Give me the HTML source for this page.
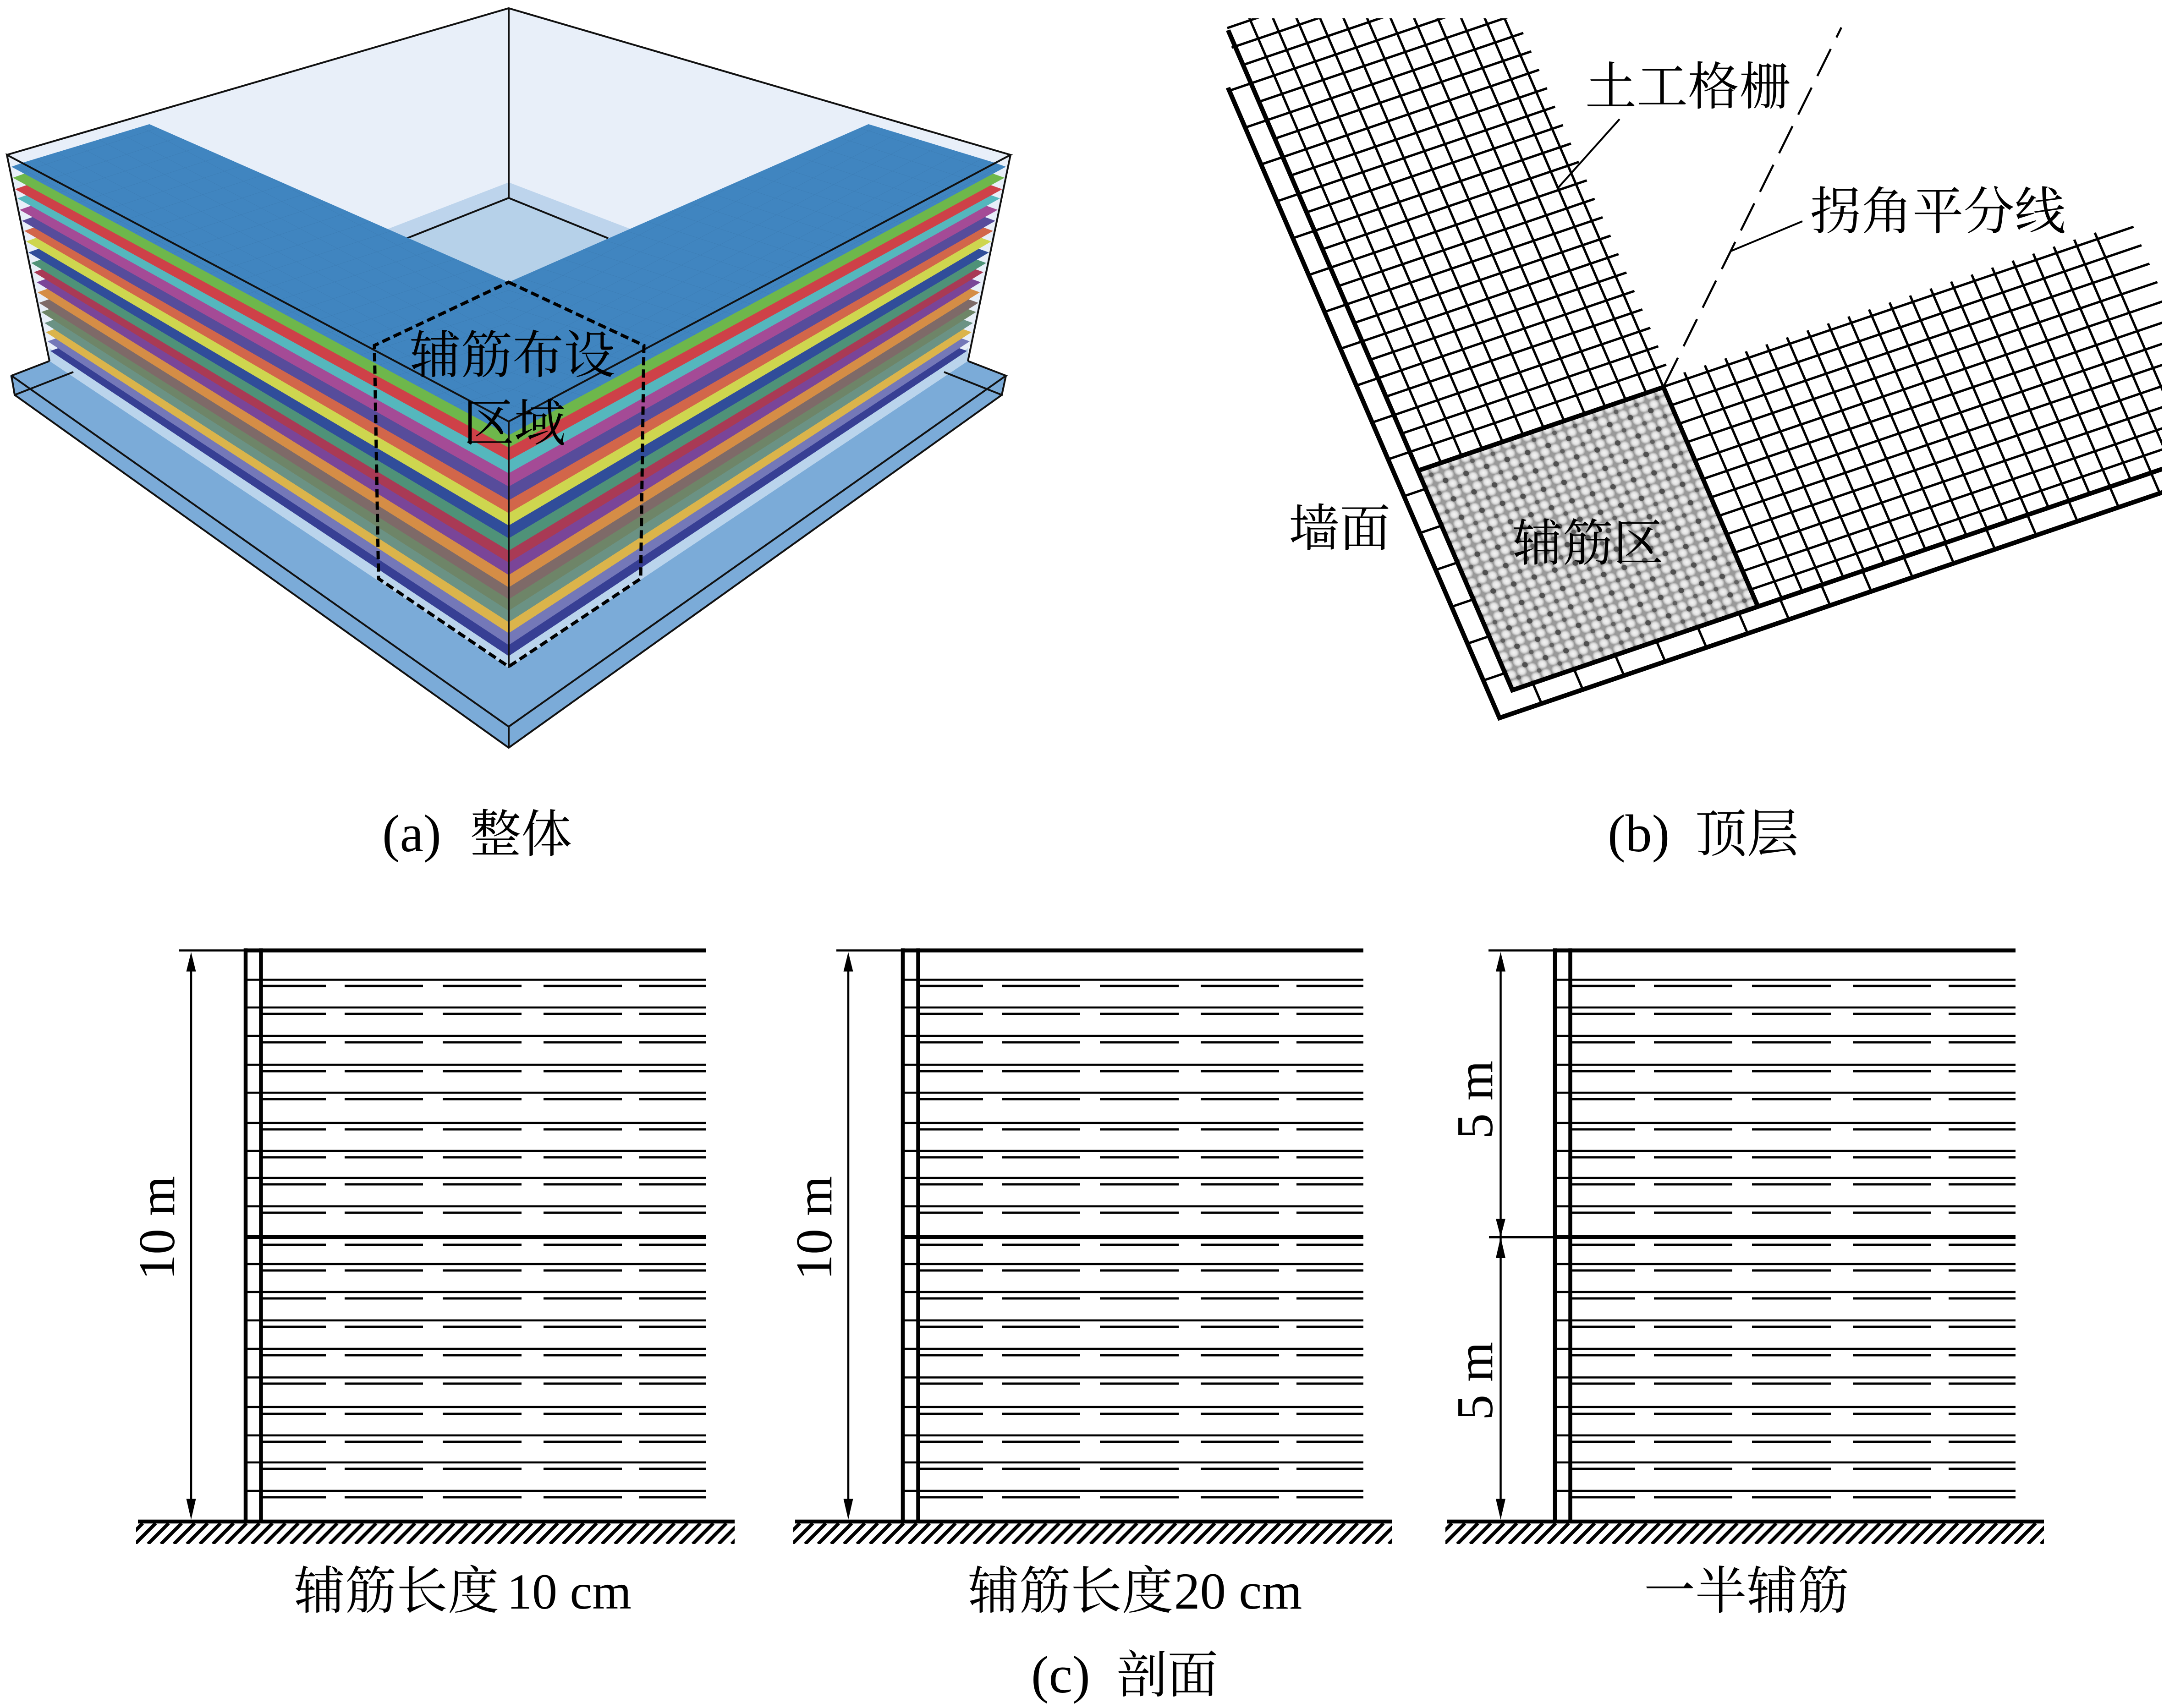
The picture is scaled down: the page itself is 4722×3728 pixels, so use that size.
<!DOCTYPE html>
<html lang="zh">
<head>
<meta charset="utf-8">
<title>Diagram</title>
<style>
html,body{margin:0;padding:0;background:#fff}
svg{display:block}
text{font-family:"Liberation Serif","Noto Serif CJK SC",serif;fill:#000;font-size:112px}
</style>
</head>
<body>
<svg xmlns="http://www.w3.org/2000/svg" width="4722" height="3728" viewBox="0 0 4722 3728">
<defs>
  <pattern id="gridL" patternUnits="userSpaceOnUse" width="47" height="47" patternTransform="matrix(.884 .468 .95 -.31 0 0)">
    <path d="M0 0H47M0 0V47" stroke="#16365e" stroke-opacity=".14" stroke-width="1.6" fill="none"/>
  </pattern>
  <clipPath id="armsClip"><polygon points="25,364 50,355 326,271 1110,616 1895,271 2170,355 2195,364 1110,950"/></clipPath>
  <clipPath id="bClip"><rect x="2600" y="40" width="2118" height="1600"/></clipPath>
  <radialGradient id="blob">
    <stop offset="0" stop-color="#f4f4f4"/>
    <stop offset=".6" stop-color="#e2e2e2"/>
    <stop offset="1" stop-color="#a8a8a8"/>
  </radialGradient>
  <pattern id="blobs" patternUnits="userSpaceOnUse" x="50" y="48.5" width="23.65" height="21.9">
    <rect width="23.65" height="21.9" fill="#999"/>
    <circle cx="11.82" cy="10.95" r="11" fill="url(#blob)"/>
  </pattern>
  <pattern id="dots" patternUnits="userSpaceOnUse" x="50" y="48.5" width="47.3" height="43.8">
    <circle cx="0" cy="0" r="6" fill="#505050"/>
    <circle cx="47.3" cy="0" r="6" fill="#505050"/>
    <circle cx="0" cy="43.8" r="6" fill="#505050"/>
    <circle cx="47.3" cy="43.8" r="6" fill="#505050"/>
    <circle cx="23.65" cy="21.9" r="5" fill="#606060"/>
  </pattern>
  <pattern id="hatch" patternUnits="userSpaceOnUse" x="0" y="3325" width="28.3" height="45">
    <path d="M-45 45L0 0M-16.7 45L28.3 0M11.6 45L56.6 0M-73.3 45L-28.3 0" stroke="#000" stroke-width="7.5" fill="none"/>
  </pattern>
  <path id="dr" d="M573 0H711M752 0H923M966 0H1138M1186 0H1357M1395 0H1541" stroke="#000" stroke-width="5" fill="none"/>
  <g id="sec">
    <path d="M391 2074.5H532" stroke="#000" stroke-width="4.5" fill="none"/>
    <path d="M532 2074.5H1541" stroke="#000" stroke-width="8.5" fill="none"/>
    <path d="M536 2070V3320M569.5 2070V3320" stroke="#000" stroke-width="8.5" fill="none"/>
    <path d="M536 2138.4H1541M536 2199H1541M536 2261H1541M536 2324H1541M536 2385H1541M536 2451H1541M536 2512H1541M536 2571H1541M536 2633H1541M536 2759H1541M536 2820H1541M536 2882H1541M536 2944H1541M536 3006.5H1541M536 3071H1541M536 3133H1541M536 3192H1541M536 3254H1541" stroke="#000" stroke-width="4.6" fill="none"/>
    <path d="M536 2700H1541" stroke="#000" stroke-width="8.5" fill="none"/>
    <use href="#dr" y="2152"/><use href="#dr" y="2213"/><use href="#dr" y="2275"/><use href="#dr" y="2338"/><use href="#dr" y="2399"/><use href="#dr" y="2465"/><use href="#dr" y="2526"/><use href="#dr" y="2585"/><use href="#dr" y="2647"/><use href="#dr" y="2717"/><use href="#dr" y="2773"/><use href="#dr" y="2834"/><use href="#dr" y="2896"/><use href="#dr" y="2958"/><use href="#dr" y="3020"/><use href="#dr" y="3086"/><use href="#dr" y="3147"/><use href="#dr" y="3206"/><use href="#dr" y="3268"/>
    <path d="M301 3321H1603" stroke="#000" stroke-width="8.5" fill="none"/>
    <rect x="297" y="3325" width="1306" height="45" fill="url(#hatch)"/>
  </g>
  <g id="dim10">
    <path d="M417 2100V3290" stroke="#000" stroke-width="4.5" fill="none"/>
    <polygon points="417,2078 406.5,2120.5 427.5,2120.5" fill="#000"/>
    <polygon points="417,3317 406.5,3271.5 427.5,3271.5" fill="#000"/>
  </g>
</defs>

<rect width="4722" height="3728" fill="#fff"/>

<!-- Panel a -->
<polygon points="1110,18 2205,338 2112,788 1110,1458 108,788 15,338" fill="#e8eff9"/>
<polygon points="1110,398 1379,501 1110,618 843,501" fill="#bdd4ec"/>
<polygon points="1110,432 1327,520 1110,618 888,520" fill="#b6d1e9"/>
<path d="M888 520L1110 432L1327 520" stroke="#111" stroke-width="4" fill="none"/>

<polygon points="22,821 108,788 2112,788 2197,821 2186,862 1110,1632 32,862" fill="#7babd8"/>
<polygon points="108,788 1110,1458 2112,788 2112,760 1110,1425 108,760" fill="#bad4ec"/>

<polygon points="110,766 135,757 1110,1332 2085,757 2110,766 1110,1432" fill="#373f94"/>
<polygon points="104,745 129,736 1110,1308 2091,736 2116,745 1110,1408" fill="#7478b8"/>
<polygon points="100,725 125,716 1110,1282 2095,716 2120,725 1110,1382" fill="#dbb44b"/>
<polygon points="97,705 122,696 1110,1258 2098,696 2123,705 1110,1358" fill="#6b9284"/>
<polygon points="90,681 115,672 1110,1233 2105,672 2130,681 1110,1333" fill="#6e8568"/>
<polygon points="85,661 110,652 1110,1208 2110,652 2135,661 1110,1308" fill="#7e6a68"/>
<polygon points="82,638 107,629 1110,1182 2113,629 2138,638 1110,1282" fill="#d58d46"/>
<polygon points="80,616 105,607 1110,1155 2115,607 2140,616 1110,1255" fill="#7a4598"/>
<polygon points="74,594 99,585 1110,1128 2121,585 2146,594 1110,1228" fill="#a93a55"/>
<polygon points="68,574 93,565 1110,1102 2127,565 2152,574 1110,1202" fill="#4f9278"/>
<polygon points="62,551 87,542 1110,1075 2133,542 2158,551 1110,1175" fill="#304d9a"/>
<polygon points="57,527 82,518 1110,1047 2138,518 2163,527 1110,1147" fill="#ced64f"/>
<polygon points="53,504 78,495 1110,1020 2142,495 2167,504 1110,1120" fill="#d2664a"/>
<polygon points="48,482 73,473 1110,992 2147,473 2172,482 1110,1092" fill="#574c9b"/>
<polygon points="43,458 68,449 1110,962 2152,449 2177,458 1110,1062" fill="#a44b96"/>
<polygon points="38,433 63,424 1110,933 2157,424 2182,433 1110,1033" fill="#55b7bd"/>
<polygon points="33,413 58,404 1110,905 2162,404 2187,413 1110,1005" fill="#ce4148"/>
<polygon points="28,388 53,379 1110,877 2167,379 2192,388 1110,977" fill="#6eb74b"/>
<polygon points="25,364 50,355 326,271 1110,616 1895,271 2170,355 2195,364 1110,950" fill="#4085c0"/>
<g clip-path="url(#armsClip)">
  <rect x="0" y="250" width="1110" height="720" fill="url(#gridL)"/>
  <g transform="matrix(-1 0 0 1 2220 0)"><rect x="0" y="250" width="1110" height="720" fill="url(#gridL)"/></g>
</g>

<path d="M15 338L1110 18L2205 338L1110 920L15 338L108 788M2205 338L2112 788M1110 18V432M1110 920V1458" stroke="#111" stroke-width="4" fill="none"/>
<path d="M108 788L25 820L32 862L160 812M25 820L1110 1586L2195 820L2112 788M2195 820L2186 862L2060 812M32 862L1110 1632L2186 862M1110 1586V1632" stroke="#111" stroke-width="4" fill="none"/>
<polygon points="1110,616 1405,754 1398,1263 1110,1455 826,1263 817,754" fill="none" stroke="#000" stroke-width="7" stroke-dasharray="18 9"/>
<text x="894" y="814">辅筋布设</text>
<text x="1010" y="963">区域</text>
<text x="834" y="1858" style="font-size:116px">(a)</text>
<text x="1026" y="1859" style="font-size:111px">整体</text>

<!-- Panel b -->
<g clip-path="url(#bClip)">
  <g transform="matrix(.9467 -.3222 -.3955 -.9184 3272 1567)" fill="none" stroke="#000">
    <rect x="50" y="48.5" width="566" height="521.5" fill="url(#blobs)" stroke="none"/>
    <rect x="50" y="48.5" width="566" height="521.5" fill="url(#dots)" stroke="none"/>
    <path stroke-width="5.2" d="M616 89H1700M616 132.8H1700M616 176.6H1700M616 220.4H1700M616 264.2H1700M616 308H1700M616 351.8H1700M616 395.6H1700M616 439.4H1700M616 483.2H1700M616 527H1700M616 570.8H1700"/>
    <path stroke-width="5.2" d="M50 614.6H641M50 658.4H641M50 702.2H641M50 746H641M50 789.8H641M50 833.6H641M50 877.4H641M50 921.2H641M50 965H641M50 1008.8H641M50 1052.6H641M50 1096.4H641M50 1140.2H641M50 1184H641M50 1227.8H641M50 1271.6H641M50 1315.4H641M50 1359.2H641M50 1403H641M50 1446.8H641M50 1490.6H641M50 1534.4H641M42 1578.2H641M50 1622H641"/>
    <path stroke-width="5.2" d="M103.3 570V1700M150.6 570V1700M197.9 570V1700M245.2 570V1700M292.5 570V1700M339.8 570V1700M387.1 570V1700M434.4 570V1700M481.7 570V1700M529 570V1700M576.3 570V1700M616 570V1700"/>
    <path stroke-width="5.2" d="M670.9 48V586M718.2 48V586M765.5 48V586M812.8 48V586M860.1 48V586M907.4 48V586M954.7 48V586M1002 48V586M1049.3 48V586M1096.6 48V586M1143.9 48V586M1191.2 48V586M1238.5 48V586M1285.8 48V586M1333.1 48V586M1380.4 48V586M1427.7 48V586M1475 48V586M1522.3 48V586M1569.6 48V586M1616.9 48V586"/>
    <path stroke-width="5.2" d="M97 0V48M192 0V48M287 0V48M382 0V48M477 0V48M572 0V48M667 0V48M762 0V48M857 0V48M952 0V48M1047 0V48M1142 0V48M1237 0V48M1332 0V48M1427 0V48M1522 0V48"/>
    <path stroke-width="5.2" d="M0 89H50M0 176.6H50M0 264.2H50M0 351.8H50M0 439.4H50M0 527H50M0 614.6H50M0 702.2H50M0 789.8H50M0 877.4H50M0 965H50M0 1052.6H50M0 1140.2H50M0 1227.8H50M0 1315.4H50M0 1403H50M0 1490.6H50"/>
    <path stroke-width="10" stroke-linejoin="miter" d="M0 1498V0H1700"/>
    <path stroke-width="10" stroke-linejoin="miter" d="M50 1617V48.5H1700"/>
    <path stroke-width="10" d="M50 570H616V48.5"/>
  </g>
</g>
<path d="M3632 840L4018 60" stroke="#000" stroke-width="4.5" stroke-dasharray="66 28" fill="none"/>
<path d="M3534 260L3398 412M3933 483L3777 548" stroke="#000" stroke-width="4" fill="none"/>
<text x="3459" y="228">土工格栅</text>
<text x="3950" y="500" style="font-size:111.5px">拐角平分线</text>
<text x="2812" y="1192" style="font-size:111px">墙面</text>
<text x="3300" y="1224" style="font-size:110px">辅筋区</text>
<text x="3508" y="1858" style="font-size:116px">(b)</text>
<text x="3699" y="1859" style="font-size:113px">顶层</text>

<!-- Panel c -->
<use href="#sec"/>
<use href="#sec" x="1434"/>
<use href="#sec" x="2857"/>
<use href="#dim10"/>
<use href="#dim10" x="1434"/>
<path d="M3274.5 2100V3290" stroke="#000" stroke-width="4.5" fill="none"/>
<polygon points="3274.5,2078 3264,2120.5 3285,2120.5" fill="#000"/>
<polygon points="3274.5,3317 3264,3271.5 3285,3271.5" fill="#000"/>
<polygon points="3274.5,2700 3264,2660 3285,2660" fill="#000"/>
<polygon points="3274.5,2700 3264,2746 3285,2746" fill="#000"/>
<path d="M3249 2700.5H3393" stroke="#000" stroke-width="5" fill="none"/>

<text transform="translate(380 2794) rotate(-90)">10 m</text>
<text transform="translate(1814 2794) rotate(-90)">10 m</text>
<text transform="translate(3256 2486) rotate(-90)">5 m</text>
<text transform="translate(3256 3100) rotate(-90)">5 m</text>

<text x="641" y="3511">辅筋长度</text>
<text x="1106" y="3511" style="font-size:110px">10 cm</text>
<text x="2112" y="3511">辅筋长度</text>
<text x="2562" y="3511" style="font-size:113px">20 cm</text>
<text x="3587" y="3511">一半辅筋</text>
<text x="2250" y="3694" style="font-size:116px">(c)</text>
<text x="2436" y="3694" style="font-size:111px">剖面</text>
</svg>
</body>
</html>
